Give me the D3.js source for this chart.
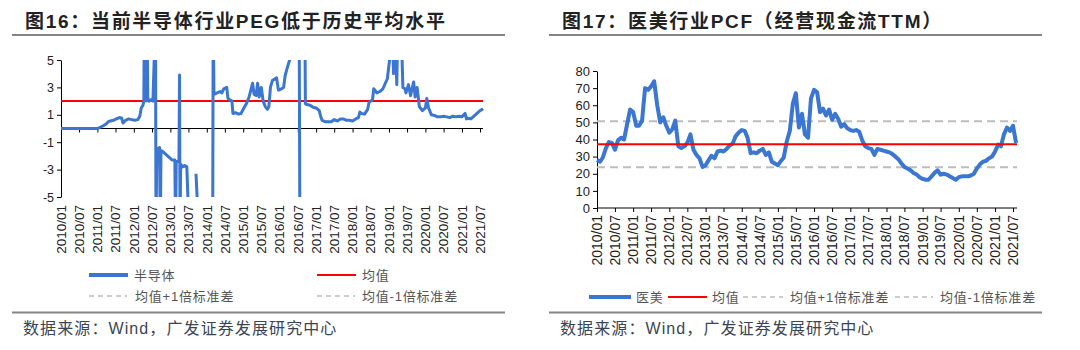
<!DOCTYPE html>
<html><head><meta charset="utf-8">
<script src="https://cdn.jsdelivr.net/npm/d3@7"></script>
<style>
body{margin:0;background:#fff;}
svg{display:block;}
text{font-family:"Liberation Sans","Noto Sans CJK SC",sans-serif;}
</style></head><body>
<svg id="c" width="1080" height="350"></svg>
<script>
// ---------- data ----------
const xTickLabels = ["2010/01","2010/07","2011/01","2011/07","2012/01","2012/07","2013/01","2013/07",
  "2014/01","2014/07","2015/01","2015/07","2016/01","2016/07","2017/01","2017/07","2018/01","2018/07",
  "2019/01","2019/07","2020/01","2020/07","2021/01","2021/07"];

const pegYTicks = [-5,-3,-1,1,3,5];
const pegMean = 2;
const pegDates = ["2010-01-01","2010-07-01","2011-01-01","2011-02-01","2011-03-01","2011-04-01","2011-04-20","2011-05-10",
 "2011-06-10","2011-07-10","2011-08-10","2011-09-01","2011-09-15","2011-10-10","2011-11-10","2011-12-10","2012-01-10",
 "2012-02-10","2012-03-01","2012-03-15","2012-04-01","2012-04-10","2012-04-15","2012-04-22","2012-04-28","2012-05-05",
 "2012-05-12","2012-05-20","2012-06-01","2012-06-20","2012-07-10","2012-08-05","2012-08-10","2012-08-18","2012-09-15",
 "2012-09-22","2012-09-29","2012-10-20","2012-11-20","2012-12-20","2013-01-20","2013-02-15","2013-02-22","2013-03-01",
 "2013-03-28","2013-04-03","2013-04-08","2013-04-14","2013-05-05","2013-05-25","2013-06-15","2013-07-10","2013-08-01",
 "2013-09-15","2013-10-15","2013-12-01",
 "2014-03-01","2014-03-06","2014-03-14","2014-04-15","2014-05-15","2014-06-01","2014-06-20","2014-07-20","2014-08-01",
 "2014-08-20","2014-09-10","2014-09-20","2014-10-15","2014-11-15","2014-12-10","2015-01-01","2015-02-01","2015-03-01",
 "2015-04-05","2015-04-20","2015-05-10","2015-05-25","2015-06-10","2015-07-01","2015-07-20","2015-08-10","2015-09-01",
 "2015-09-15","2015-10-01","2015-10-20","2015-11-10","2015-12-01","2015-12-20","2016-01-20","2016-02-10","2016-02-25",
 "2016-03-20","2016-04-10","2016-04-20","2016-06-01",
 "2016-07-15","2016-07-22","2016-08-20",
 "2016-09-10","2016-09-15","2016-10-01","2016-11-01","2016-12-01","2017-01-01","2017-02-01","2017-02-15","2017-03-01",
 "2017-04-01","2017-05-01","2017-06-01","2017-07-01","2017-08-01","2017-09-01","2017-10-01","2017-11-01","2017-12-01",
 "2018-01-01","2018-02-01","2018-03-01","2018-03-15","2018-04-01","2018-05-01","2018-06-01","2018-06-15","2018-07-01",
 "2018-07-20","2018-08-01","2018-09-01","2018-10-01","2018-11-01","2018-12-01","2018-12-15","2019-01-10","2019-02-01",
 "2019-02-15","2019-03-01","2019-03-20","2019-04-01","2019-05-01","2019-05-20","2019-06-10","2019-06-20","2019-07-15",
 "2019-08-05","2019-09-05","2019-09-20","2019-10-10","2019-11-01","2019-12-01","2020-01-01","2020-01-15","2020-02-01",
 "2020-03-01","2020-04-01","2020-05-01","2020-06-01","2020-07-01","2020-08-01","2020-09-01","2020-10-01","2020-11-01",
 "2020-12-01","2021-01-01","2021-02-01","2021-02-15","2021-03-01","2021-04-01","2021-05-01","2021-06-01","2021-07-01",
 "2021-08-01"];
const pegValues = [0,0,0,0.1,0.2,0.35,0.5,0.55,
 0.6,0.7,0.8,0.75,0.4,0.6,0.7,0.65,0.6,
 0.65,0.9,1.5,1.7,2.0,8,2.1,8,2.0,
 8,2.2,2.0,2.1,2.0,8,-8,-1.5,-1.4,
 -8,-1.6,-1.7,-1.9,-2.1,-2.3,-2.3,-8,-2.4,
 -2.4,3.9,-8,-2.6,-2.8,-2.7,-2.8,-8,null,
 -3.3,-8,null,
 -8,8,2.5,2.6,2.7,2.6,2.9,3.0,2.2,
 2.1,2.0,1.1,1.15,1.05,1.1,1.4,1.8,2.3,
 3.3,2.5,2.4,3.3,2.3,3.0,2.0,1.6,1.4,
 1.6,3.0,3.5,3.6,3.7,2.8,2.9,3.0,3.85,
 4.5,5.0,8,null,
 8,-8,null,
 8,1.8,1.75,1.7,1.55,1.5,1.3,0.9,0.6,
 0.5,0.5,0.5,0.65,0.55,0.7,0.7,0.6,0.6,
 0.55,0.7,0.8,1.2,1.1,1.05,1.4,1.9,2.0,
 2.1,2.9,2.6,2.7,2.9,3.4,3.6,5.2,8,
 4.0,8,3.2,8,8,3.0,2.9,2.6,3.2,
 2.4,3.4,2.3,3.0,1.6,1.3,1.5,2.2,1.5,
 1.0,0.95,0.85,0.85,0.9,0.85,0.8,0.9,0.85,
 0.9,0.85,1.1,0.7,0.75,0.7,0.9,1.1,1.3,
 1.45];

const pcfYTicks = [0,10,20,30,40,50,60,70,80];
const pcfStart = "2010-01-01";
const pcfValues = [28,27,29.5,35,38.5,38,34,39.5,41,40,49,57.5,
 56,48,48,51,70,69,71,74,60,50,53,48,
 44,46,51,36,35,36,38,43,34,31,29,24,
 25,28,30.5,29,33,33.5,33,34.5,36.5,37.5,42,44,
 45.5,45,41,32,32.5,32,33.5,34.5,31,32.5,27,26,
 25,27.5,29.5,39,45,61,67,47,55,43,41,64,
 69,67.5,56,58,54,57.5,51.5,55,52,47.5,49,46.5,
 45.5,45,45.5,44.5,39.5,36,35,34.5,31,34.5,34,33.5,
 33,32.5,31.5,30,28.5,26,24,23,22,20.5,19.5,18,
 17,16.5,16.5,18.5,20.5,22,19.5,20,19.5,18.5,17.5,16.5,
 18,18.5,18.5,18.5,19,20,23,25.5,27,27.5,29,30,
 33,37,36,43,47,45,48,38];
const pcfMean = 37.2, pcfUpper = 50.6, pcfLower = 23.8;

// ---------- styles ----------
const BLUE = "#3a76d2", RED = "#ff0000", GRAY = "#bdbdbd", RULE = "#858585";
const svg = d3.select("#c");
const parseM = d3.timeParse("%Y/%m");
const parseD = d3.timeParse("%Y-%m-%d");
const tickDates = xTickLabels.map(parseM);

function frame(x0, x1, title, titleX){
  svg.append("text").attr("x", titleX).attr("y", 28).text(title)
    .attr("font-size", 19).attr("font-weight", "bold").attr("fill", "#222")
    .attr("letter-spacing", "1.7px");
  svg.append("line").attr("x1", x0).attr("x2", x1).attr("y1", 35).attr("y2", 35)
    .attr("stroke", RULE).attr("stroke-width", 2);
  svg.append("line").attr("x1", x0).attr("x2", x1).attr("y1", 312.5).attr("y2", 312.5)
    .attr("stroke", RULE).attr("stroke-width", 2);
  svg.append("text").attr("x", titleX - 2).attr("y", 334).text("数据来源：Wind，广发证券发展研究中心")
    .attr("font-size", 16).attr("fill", "#3a4555").attr("letter-spacing", "1.1px");
}
function legendLine(x1, x2, y, color, w, dash){
  const l = svg.append("line").attr("x1", x1).attr("x2", x2).attr("y1", y).attr("y2", y)
    .attr("stroke", color).attr("stroke-width", w);
  if (dash) l.attr("stroke-dasharray", dash);
}
function legendText(x, y, t){
  svg.append("text").attr("x", x).attr("y", y).attr("dy", "0.35em").text(t)
    .attr("font-size", 13).attr("fill", "#555").attr("letter-spacing", "0.8px");
}
function styleAxis(g, fs){
  g.select(".domain").attr("stroke", "#000");
  g.selectAll(".tick line").attr("stroke", "#000");
  g.selectAll(".tick text").attr("font-size", fs).attr("fill", "#222")
    .attr("font-family", "'Liberation Sans',Arial,sans-serif");
}

// ================= LEFT: 半导体 PEG =================
frame(12, 505, "图16：当前半导体行业PEG低于历史平均水平", 25);
const xL = d3.scaleTime().domain([tickDates[0], tickDates[tickDates.length-1]]).range([61, 480]);
const yL = d3.scaleLinear().domain([-5, 5]).range([197, 60]);

const gyL = svg.append("g").attr("transform", "translate(61,0)")
  .call(d3.axisLeft(yL).tickValues(pegYTicks).tickSize(4).tickSizeOuter(0).tickFormat(d => String(d)));
styleAxis(gyL, 12.5);

const gxL = svg.append("g").attr("transform", `translate(0,${yL(0)})`)
  .call(d3.axisBottom(xL).tickValues(tickDates).tickSize(4).tickSizeOuter(0).tickFormat(""));
gxL.select(".domain").remove();
gxL.selectAll(".tick line").attr("stroke", "#000");
svg.append("line").attr("x1", 61).attr("x2", 483).attr("y1", yL(0)).attr("y2", yL(0)).attr("stroke", "#000");

svg.append("g").selectAll("text").data(tickDates).join("text")
  .attr("transform", d => `translate(${xL(d)},205) rotate(-90)`)
  .attr("text-anchor", "end").attr("dy", "0.35em")
  .attr("font-size", 13.5).attr("fill", "#222").text((d, i) => xTickLabels[i]);

svg.append("clipPath").attr("id", "clipL").append("rect")
  .attr("x", 0).attr("y", 60).attr("width", 540).attr("height", 137);

svg.append("line").attr("x1", 61).attr("x2", 483).attr("y1", yL(pegMean)).attr("y2", yL(pegMean))
  .attr("stroke", RED).attr("stroke-width", 2);

const pegData = pegDates.map((d, i) => ({date: parseD(d), v: pegValues[i]}));
svg.append("path").datum(pegData).attr("clip-path", "url(#clipL)")
  .attr("fill", "none").attr("stroke", BLUE).attr("stroke-width", 3).attr("stroke-linejoin", "round")
  .attr("d", d3.line().defined(d => d.v != null).x(d => xL(d.date)).y(d => yL(d.v)));

legendLine(89, 128, 275, BLUE, 4);
legendText(134, 275, "半导体");
legendLine(317, 356, 275, RED, 2);
legendText(362, 275, "均值");
legendLine(89, 127, 296, GRAY, 1.5, "5,4");
legendText(135, 296, "均值+1倍标准差");
legendLine(317, 355, 296, GRAY, 1.5, "5,4");
legendText(362, 296, "均值-1倍标准差");

// ================= RIGHT: 医美 PCF =================
frame(549, 1042, "图17：医美行业PCF（经营现金流TTM）", 562);
const xR = d3.scaleTime().domain([tickDates[0], tickDates[tickDates.length-1]]).range([597, 1013]);
const yR = d3.scaleLinear().domain([0, 80]).range([208, 71]);

const gyR = svg.append("g").attr("transform", "translate(597,0)")
  .call(d3.axisLeft(yR).tickValues(pcfYTicks).tickSize(4).tickSizeOuter(0));
styleAxis(gyR, 13);

const gxR = svg.append("g").attr("transform", "translate(0,208)")
  .call(d3.axisBottom(xR).tickValues(tickDates).tickSize(4).tickSizeOuter(0).tickFormat(""));
gxR.select(".domain").remove();
gxR.selectAll(".tick line").attr("stroke", "#000");
svg.append("line").attr("x1", 597).attr("x2", 1017).attr("y1", 208).attr("y2", 208).attr("stroke", "#000").attr("stroke-width", 1.2);

svg.append("g").selectAll("text").data(tickDates).join("text")
  .attr("transform", d => `translate(${xR(d)},215) rotate(-90)`)
  .attr("text-anchor", "end").attr("dy", "0.35em")
  .attr("font-size", 14).attr("fill", "#222").text((d, i) => xTickLabels[i]);

[[pcfUpper, GRAY, 2, "8,5"], [pcfLower, GRAY, 2, "8,5"]].forEach(([v, c, w, da]) => {
  svg.append("line").attr("x1", 597).attr("x2", 1017).attr("y1", yR(v)).attr("y2", yR(v))
    .attr("stroke", c).attr("stroke-width", w).attr("stroke-dasharray", da);
});

const start = parseD(pcfStart);
const pcfData = pcfValues.map((v, i) => ({date: d3.timeMonth.offset(start, i), v}));
svg.append("path").datum(pcfData)
  .attr("fill", "none").attr("stroke", BLUE).attr("stroke-width", 4).attr("stroke-linejoin", "round")
  .attr("d", d3.line().x(d => xR(d.date)).y(d => yR(d.v)));

svg.append("line").attr("x1", 597).attr("x2", 1017).attr("y1", yR(pcfMean)).attr("y2", yR(pcfMean))
  .attr("stroke", RED).attr("stroke-width", 2);

legendLine(589, 631, 297, BLUE, 4);
legendText(636, 297, "医美");
legendLine(668, 707, 297, RED, 2);
legendText(712, 297, "均值");
legendLine(743, 783, 297, GRAY, 1.5, "5,4");
legendText(790, 297, "均值+1倍标准差");
legendLine(895, 933, 297, GRAY, 1.5, "5,4");
legendText(940, 297, "均值-1倍标准差");
</script>
</body></html>
